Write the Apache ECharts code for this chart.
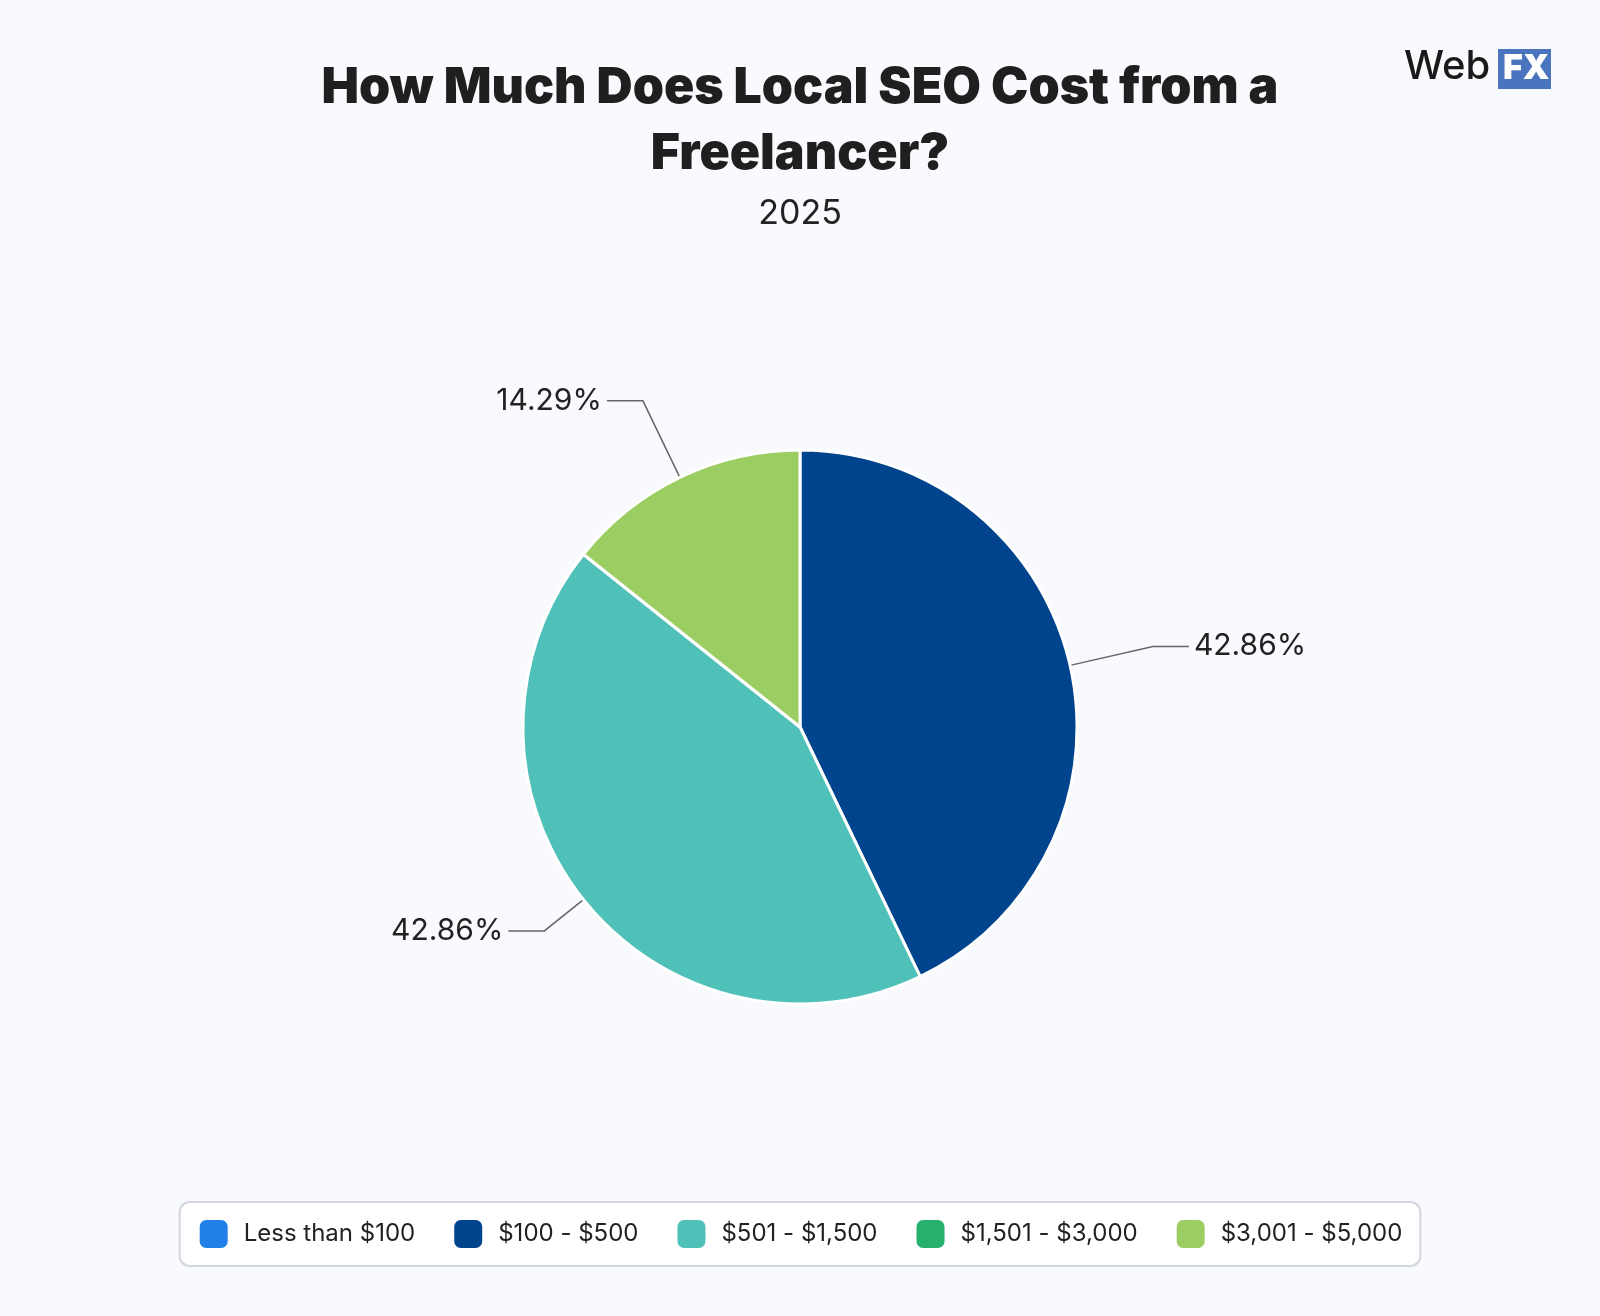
<!DOCTYPE html>
<html><head><meta charset="utf-8">
<script src="https://cdn.jsdelivr.net/npm/echarts@6/dist/echarts.min.js"></script>
<style>html,body{margin:0;padding:0;background:#f9fafe}#c{width:1600px;height:1316px}</style>
</head><body><div id="c"></div>
<script>
const categories = ['Less than $100', '$100 - $500', '$501 - $1,500', '$1,501 - $3,000', '$3,001 - $5,000'];
const values = [0, 3, 3, 0, 1];
const colors = ['#2180e8', '#00448e', '#4fc1b9', '#26b06c', '#9ccd62'];
const lineLengths = [85, 85, 50, 85, 85];
const total = values.reduce((a, b) => a + b, 0);
const chart = echarts.init(document.getElementById('c'));
chart.setOption({
  backgroundColor: '#f9fafe',
  title: [
    {text: 'How Much Does Local SEO Cost from a\nFreelancer?', left: 'center', top: 50,
     textStyle: {fontFamily: 'Inter', fontWeight: 900, fontSize: 50, lineHeight: 66, color: '#1f1f1f', letterSpacing: -1}},
    {text: '2025', left: 'center', top: 192, textStyle: {fontFamily: 'Inter', fontWeight: 400, fontSize: 34, color: '#222'}}
  ],
  graphic: [
    {type: 'text', left: 1404, top: 47, style: {text: 'Web', font: '500 40px Inter', fill: '#1a1a1a'}},
    {type: 'rect', left: 1498, top: 49, shape: {width: 53, height: 40}, style: {fill: '#4a74be'}},
    {type: 'text', left: 1503, top: 52, style: {text: 'FX', font: '900 34px Inter', fill: '#ffffff'}}
  ],
  legend: {
    bottom: 50, left: 'center', itemWidth: 30, itemHeight: 30, itemGap: 37,
    icon: 'roundRect', backgroundColor: '#ffffff', borderColor: '#d3d7dd', borderWidth: 2,
    borderRadius: 10, padding: [16, 18],
    textStyle: {fontFamily: 'Inter', fontSize: 24, color: '#222', padding: [0, 0, 0, 10]},
    data: categories
  },
  series: [{
    type: 'pie', center: [800, 727], radius: 277, startAngle: 90, clockwise: true,
    avoidLabelOverlap: false,
    itemStyle: {borderColor: '#ffffff', borderWidth: 3},
    label: {fontFamily: 'Inter', fontSize: 30, color: '#222',
      formatter: p => (p.value / total * 100).toFixed(2) + '%'},
    labelLine: {length: 85, length2: 36, lineStyle: {color: '#666', width: 1.5}},
    data: categories.map((n, i) => ({name: n, value: values[i], itemStyle: {color: colors[i]},
      label: {show: values[i] > 0}, labelLine: {show: values[i] > 0, length: lineLengths[i]}}))
  }]
});
</script></body></html>
